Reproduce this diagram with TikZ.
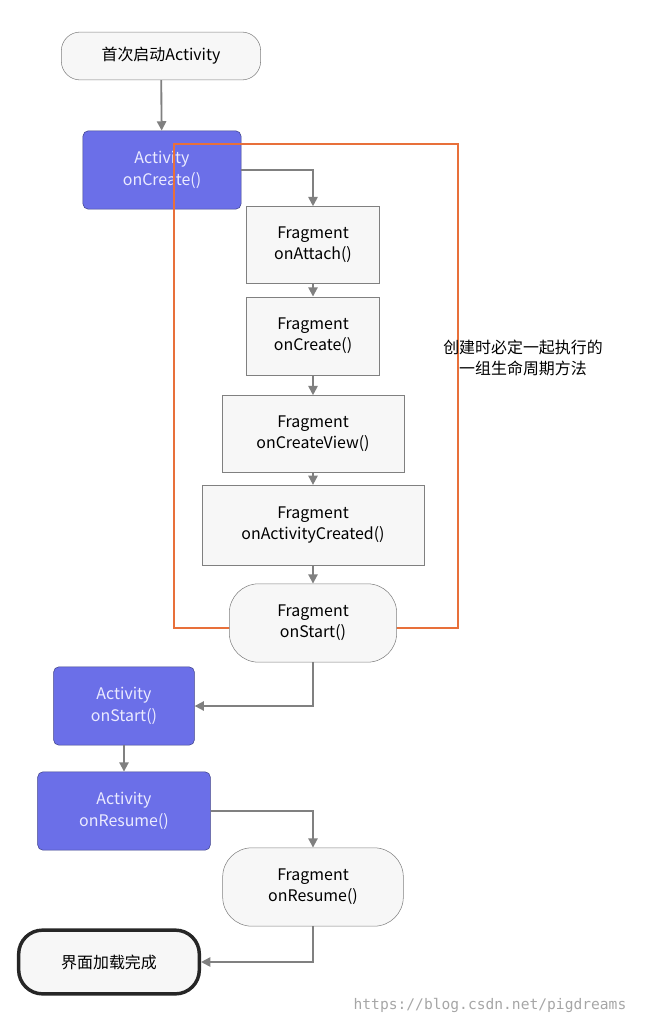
\documentclass[tikz,border=0pt]{standalone}
\usepackage{fontspec}
\setmainfont{Noto Sans CJK SC}
\newfontfamily\wmfont{DejaVu Sans Mono}
\usetikzlibrary{positioning,arrows.meta}
\definecolor{actblue}{HTML}{6B6FE8}
\definecolor{linegray}{HTML}{808080}
\definecolor{boxorange}{HTML}{E8703A}
\tikzset{
  box/.style={draw=linegray, fill=gray!6, align=center, font=\fontsize{12}{16}\selectfont, inner sep=0pt},
  act/.style={box, fill=actblue, rounded corners=4pt, draw=actblue!60!black, text=white!92!blue},
  pill/.style={box, rounded corners=14pt},
  flow/.style={draw=linegray, line width=1.4pt, -{Triangle[width=7pt,length=7pt]}}
}
\begin{document}
\begin{tikzpicture}[x=0.02646cm, y=-0.02646cm]
\useasboundingbox (0,0) rectangle (655,1026);
\node (start) [pill, minimum width=156\pgflinewidth, text width=150, minimum height=36] at (161,56) {首次启动Activity};
\node (aCreate) [act, minimum width=119, minimum height=59] at (162,170) {Activity\\onCreate()};
\node (fAttach) [box, minimum width=100, minimum height=58] at (313,245) {Fragment\\onAttach()};
\node (fCreate) [box, minimum width=100, minimum height=59] at (313,336) {Fragment\\onCreate()};
\node (fView) [box, minimum width=137, minimum height=58] at (313,434) {Fragment\\onCreateView()};
\node (fActCreated) [box, minimum width=167, minimum height=60] at (313,525) {Fragment\\onActivityCreated()};
\node (group) [draw=boxorange, line width=1.2pt, minimum width=214, minimum height=364] at (316,386) {};
\node (note) [align=center, font=\fontsize{12}{16}\selectfont] at (523,358) {创建时必定一起执行的\\一组生命周期方法};
\node (fStart) [pill, minimum width=126, minimum height=59, rounded corners=22pt] at (313,623) {Fragment\\onStart()};
\node (aStart) [act, minimum width=106, minimum height=59] at (124,706) {Activity\\onStart()};
\node (aResume) [act, minimum width=130, minimum height=59] at (124,811) {Activity\\onResume()};
\node (fResume) [pill, minimum width=136, minimum height=59, rounded corners=22pt] at (313,887) {Fragment\\onResume()};
\node (done) [pill, draw=black!85, line width=2.6pt, minimum width=136, minimum height=48, rounded corners=18pt] at (109,962) {界面加载完成};
\node (mark) [text=gray!70, font=\wmfont\fontsize{11}{13}\selectfont] at (490,1005) {https://blog.csdn.net/pigdreams};

\draw[flow] (start) -- (aCreate);
\draw[flow] (aCreate.east) -| (fAttach.north);
\draw[flow] (fAttach) -- (fCreate);
\draw[flow] (fCreate) -- (fView);
\draw[flow] (fView) -- (fActCreated);
\draw[flow] (fActCreated) -- (fStart);
\draw[flow] (fStart.south) |- (aStart.east);
\draw[flow] (aStart) -- (aResume);
\draw[flow] (aResume.east) -| (fResume.north);
\draw[flow] (fResume.south) |- (done.east);
\end{tikzpicture}
\end{document}
